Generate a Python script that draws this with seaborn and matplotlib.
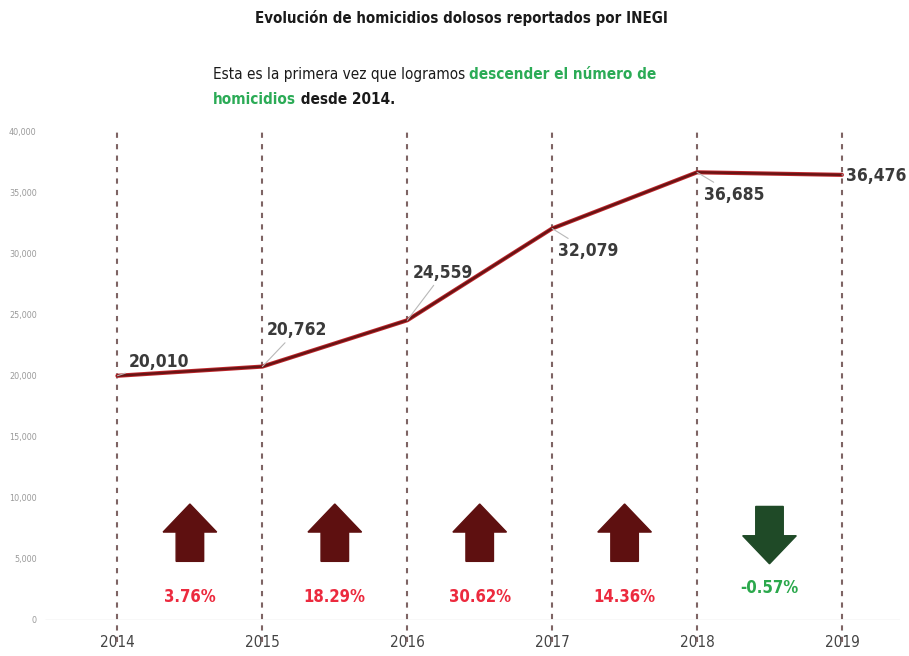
import pandas as pd
import seaborn as sns
import matplotlib.pyplot as plt
from matplotlib.patches import FancyArrow

years = ["2014", "2015", "2016", "2017", "2018", "2019"]
homicidios = [20010, 20762, 24559, 32079, 36685, 36476]
cambios = ["3.76%", "18.29%", "30.62%", "14.36%", "-0.57%"]
sube = [True, True, True, True, False]

# label offsets in points (dx, dy) relative to each data point
label_offsets = [(8, 10), (3, 26), (4, 34), (4, -16), (5, -16), (3, -1)]

df = pd.DataFrame({"pos": range(len(years)), "year": years, "n": homicidios})

sns.set_style("white")
plt.rcParams["font.family"] = ["DejaVu Sans"]
plt.rcParams["font.stretch"] = "condensed"

fig = plt.figure(figsize=(9.09, 6.56), dpi=100)
ax = fig.add_axes([0.0495, 0.055, 0.9405, 0.744])

for p in df["pos"]:
    ax.axvline(p, ymin=-0.045, ymax=1.0, color="#7e6464", lw=1.5,
               ls=(0, (2.5, 3)), clip_on=False, zorder=1)

ax.axhline(0, color="#cfcfcf", lw=0.9, zorder=0)

sns.lineplot(data=df, x="pos", y="n", color="#c0262c", lw=3.0, ax=ax, zorder=3)
sns.lineplot(data=df, x="pos", y="n", color="#681414", lw=1.7, ax=ax, zorder=4)

for (p, v), (dx, dy) in zip(zip(df["pos"], df["n"]), label_offsets):
    ax.annotate(f"{v:,}", xy=(p, v), xytext=(dx, dy), textcoords="offset points",
                fontsize=12.5, fontweight="bold", color="#3a3a3a",
                ha="left", va="center",
                arrowprops=dict(arrowstyle="-", color="#b8b8b8", lw=0.8,
                                shrinkA=0, shrinkB=0),
                zorder=5)

# change arrows between years
for i, (txt, up) in enumerate(zip(cambios, sube)):
    mid = i + 0.5
    if up:
        base, length, col, tcol = 4800, 4700, "#5e1010", "#ec2a3e"
    else:
        base, length, col, tcol = 9300, -4700, "#1f4a27", "#2ba84c"
    ax.add_patch(FancyArrow(mid, base, 0, length, width=0.19, head_width=0.37,
                            head_length=2300, length_includes_head=True,
                            color=col, ec=col, zorder=3))
    ax.text(mid, 1900 if up else 2600, txt, ha="center", va="center",
            fontsize=12, fontweight="bold", color=tcol)

ax.set_xlim(-0.5, 5.4)
ax.set_ylim(0, 40000)
ax.set_yticks(range(0, 40001, 5000))
ax.set_yticklabels([f"{t:,}" for t in range(0, 40001, 5000)], fontsize=6.5,
                   color="#9a9a9a")
ax.set_xticks(df["pos"])
ax.set_xticklabels(years, fontsize=11, color="#444444")
ax.tick_params(axis="x", pad=11, length=0)
ax.tick_params(axis="y", pad=6, length=0)
ax.set_xlabel("")
ax.set_ylabel("")
sns.despine(ax=ax, left=True, bottom=True)

fig.text(0.508, 0.972, "Evolución de homicidios dolosos reportados por INEGI",
         ha="center", va="center", fontsize=10.8, fontweight="bold", color="#1a1a1a")

# subtitle with mixed colours
t1 = fig.text(0.234, 0.886, "Esta es la primera vez que logramos ", ha="left",
              va="center", fontsize=11, color="#1a1a1a")
ax.annotate("descender el número de", xy=(1, 0), xycoords=t1, va="bottom",
            fontsize=11, fontweight="bold", color="#2bab56",
            annotation_clip=False)
t3 = fig.text(0.234, 0.848, "homicidios", ha="left", va="center", fontsize=11,
              fontweight="bold", color="#2bab56")
ax.annotate(" desde 2014.", xy=(1, 0), xycoords=t3, va="bottom", fontsize=11,
            fontweight="bold", color="#1a1a1a", annotation_clip=False)

fig.savefig("out.png", dpi=100)
